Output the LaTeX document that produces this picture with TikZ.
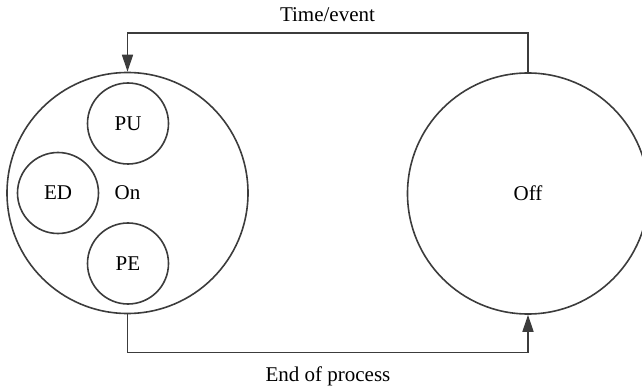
\documentclass[tikz,border=0pt]{standalone}
\usepackage{fontspec}
\setmainfont{Liberation Serif}
\usetikzlibrary{arrows.meta}
\definecolor{linegray}{HTML}{3C3C3C}
\begin{document}
\begin{tikzpicture}[x=1pt,y=-1pt,
  every node/.style={font=\fontsize{21}{25}\selectfont, text=black},
  state/.style={circle, draw=linegray, line width=1.6pt, inner sep=0pt},
  bigstate/.style={state, minimum size=241pt},
  substate/.style={state, minimum size=81pt},
  flow/.style={draw=linegray, line width=1.6pt,
    -{Triangle[length=17pt,width=11pt]}, rounded corners=0pt},
  lbl/.style={anchor=base}]
  \useasboundingbox (0,0) rectangle (642,390);
  % main states
  \node[bigstate] (on)  at (127.5,193) {On};
  \node[bigstate] (off) at (528,193.5) {Off};
  % sub-states inside On
  \node[substate] (pu) at (128,123.5) {PU};
  \node[substate] (ed) at (58,193)    {ED};
  \node[substate] (pe) at (128,263.5) {PE};
  % routing levels of the two transitions
  \coordinate (toplevel) at (0,33);
  \coordinate (botlevel) at (0,352.5);
  % transitions
  \draw[flow] (off.north) -- (off.north |- toplevel) -| (on.north);
  \draw[flow] (on.south) -- (on.south |- botlevel) -| (off.south);
  % transition labels
  \node[lbl] (tlabel) at (327.5,21.7) {Time/event};
  \node[lbl] (blabel) at (328,381.5) {End of process};
\end{tikzpicture}
\end{document}
